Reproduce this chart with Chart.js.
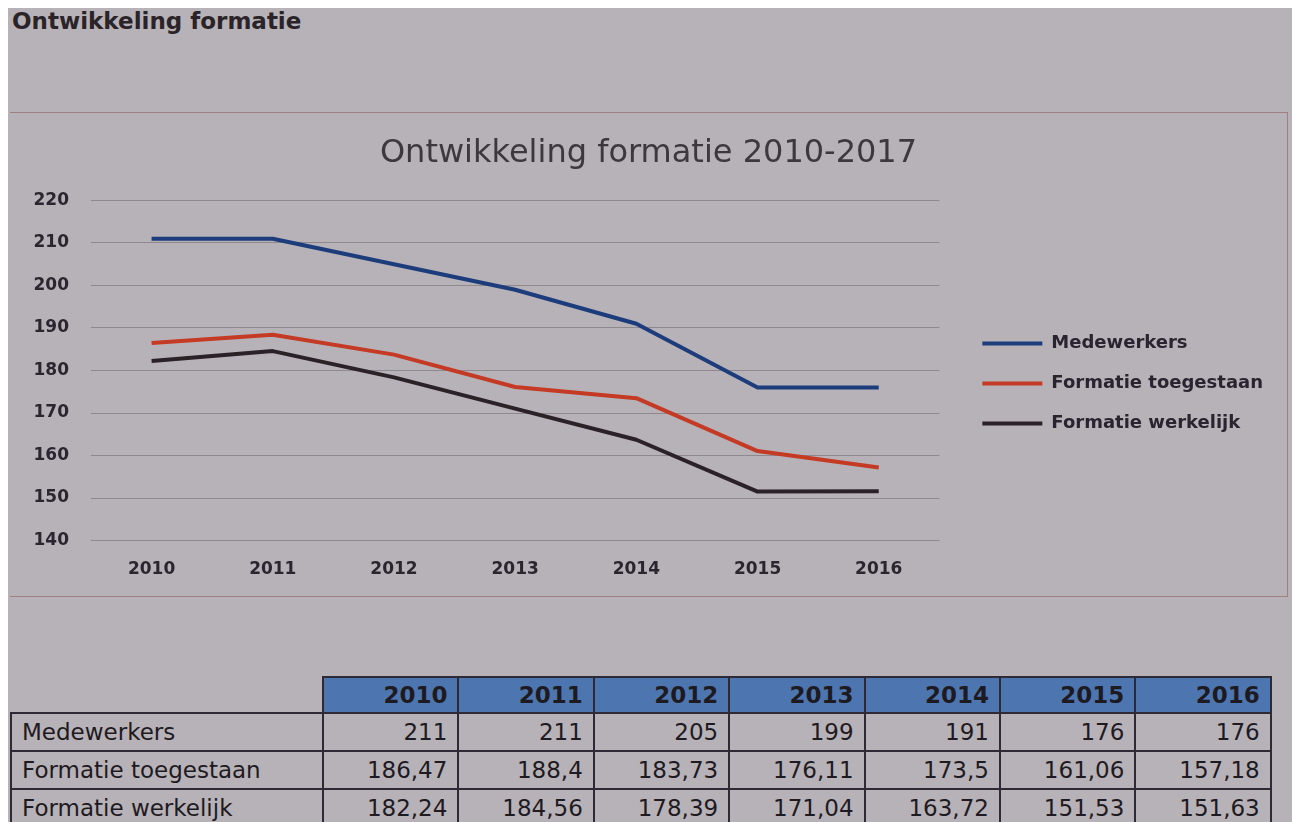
<!DOCTYPE html>
<html>
<head>
<meta charset="utf-8">
<script src="https://cdn.jsdelivr.net/npm/chart.js@4.4.1/dist/chart.umd.min.js"></script>
<style>
  body { margin: 0; background: #fff; width: 1301px; height: 822px; overflow: hidden; position: relative; font-family: "DejaVu Sans", sans-serif; }
  #sheet { position: absolute; left: 8px; top: 8px; width: 1284px; height: 814px; background: #b7b2b7; }
  #pageTitle { position: absolute; left: 12px; top: 8px; font-weight: bold; font-size: 23px; color: #2a2328; }
  #chartBox { position: absolute; left: 10px; top: 112px; width: 1278px; height: 485px;
    border-top: 1px solid #a07f82; border-right: 1px solid #a07f82; border-bottom: 1px solid #a07f82; box-sizing: border-box; }
  #chartWrap { position: absolute; left: 10px; top: 112px; width: 1278px; height: 504px; }
  #dataTable { position: absolute; left: 10px; top: 676px; border-collapse: collapse; table-layout: fixed; font-size: 23px; color: #1e1a22; }
  #dataTable td, #dataTable th { border: 2px solid #2d2a35; padding: 0 10px; text-align: right; white-space: nowrap; overflow: hidden; }
  #dataTable th { background: #4d76b0; height: 34px; font-weight: bold; }
  #dataTable th.empty { background: transparent; border: none; }
  #dataTable td { height: 36px; }
  #dataTable td.label { text-align: left; }
</style>
</head>
<body>
<div id="sheet"></div>
<div id="pageTitle">Ontwikkeling formatie</div>
<div id="chartBox"></div>
<div id="chartWrap"><canvas id="formatieChart"></canvas></div>
<table id="dataTable"></table>
<script>
  // values
  const years = ["2010", "2011", "2012", "2013", "2014", "2015", "2016"];
  const medewerkers = [211, 211, 205, 199, 191, 176, 176];
  const formatieToegestaan = [186.47, 188.4, 183.73, 176.11, 173.5, 161.06, 157.18];
  const formatieWerkelijk = [182.24, 184.56, 178.39, 171.04, 163.72, 151.53, 151.63];
  const seriesNames = ["Medewerkers", "Formatie toegestaan", "Formatie werkelijk"];
  const yMin = 140;
  const yMax = 220;
  const yStep = 10;

  const seriesValues = [medewerkers, formatieToegestaan, formatieWerkelijk];
  const seriesColors = ["#1d3c7c", "#c43a24", "#2b2227"];

  // table below the chart
  const table = document.getElementById("dataTable");
  let html = "<colgroup><col style='width:312px'>";
  years.forEach(() => { html += "<col style='width:135.4px'>"; });
  html += "</colgroup><tr><th class='empty'></th>";
  years.forEach(y => { html += `<th>${y}</th>`; });
  html += "</tr>";
  seriesNames.forEach((name, i) => {
    html += `<tr><td class="label">${name}</td>`;
    seriesValues[i].forEach(v => { html += `<td>${String(v).replace(".", ",")}</td>`; });
    html += "</tr>";
  });
  table.innerHTML = html;

  Chart.defaults.font.family = "DejaVu Sans";

  const ctx = document.getElementById("formatieChart").getContext("2d");
  new Chart(ctx, {
    type: "line",
    data: {
      labels: years,
      datasets: seriesNames.map((name, i) => ({
        label: name,
        data: seriesValues[i],
        borderColor: seriesColors[i],
        backgroundColor: seriesColors[i],
        borderWidth: 4,
        pointRadius: 0,
        tension: 0,
        borderJoinStyle: "round",
        borderCapStyle: "butt",
      })),
    },
    options: {
      responsive: true,
      maintainAspectRatio: false,
      animation: false,
      layout: { padding: { top: 0, right: 15, bottom: 17, left: 14 } },
      scales: {
        x: {
          offset: true,
          grid: { display: false, drawTicks: false },
          border: { display: false },
          ticks: { padding: 19, color: "#2b2530", font: { size: 17, weight: "bold" } },
        },
        y: {
          min: yMin,
          max: yMax,
          afterFit: (s) => { s.width = 67; },
          grid: { color: "rgba(70, 60, 70, 0.35)", lineWidth: 1, drawTicks: false },
          border: { display: false },
          ticks: { stepSize: yStep, padding: 22, color: "#2b2530", font: { size: 17, weight: "bold" } },
        },
        // empty axis only to keep a gap between plot and legend
        gap: {
          type: "linear",
          position: "right",
          afterFit: (s) => { s.width = 21; },
          grid: { display: false },
          border: { display: false },
          ticks: { display: false },
        },
      },
      plugins: {
        title: {
          display: true,
          text: "Ontwikkeling formatie 2010-2017",
          color: "#3c383d",
          font: { size: 32, weight: "normal" },
          padding: { top: 22, bottom: 28 },
        },
        legend: {
          position: "right",
          fullSize: false,
          maxWidth: 400,
          title: { display: true, text: " ", font: { size: 10 }, padding: 7 },
          labels: {
            usePointStyle: true,
            pointStyle: "line",
            pointStyleWidth: 60,
            padding: 22,
            color: "#2a2430",
            font: { size: 18, weight: "bold" },
          },
        },
        tooltip: { enabled: false },
      },
    },
  });
</script>
</body>
</html>
